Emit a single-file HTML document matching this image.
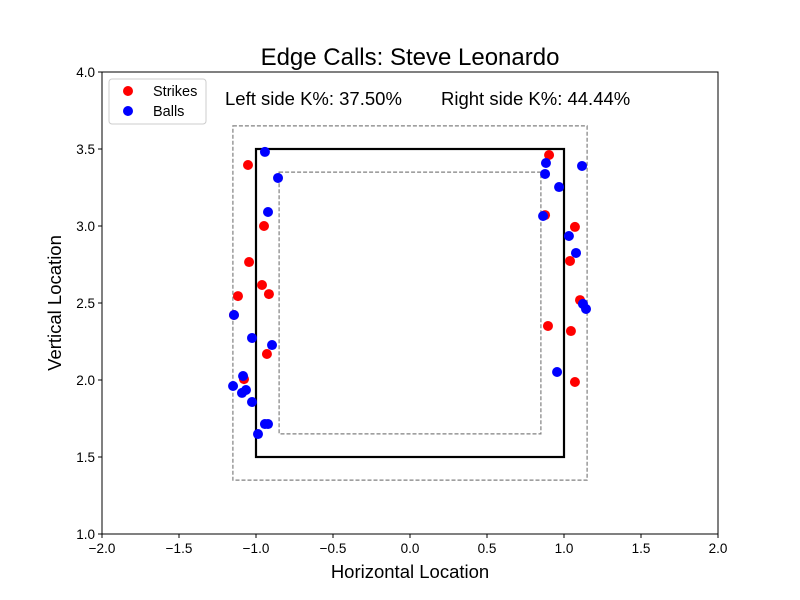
<!DOCTYPE html>
<html><head><meta charset="utf-8"><style>body{margin:0;background:#fff}svg{display:block;font-family:"Liberation Sans","DejaVu Sans",sans-serif}</style></head>
<body>
<svg id="c" width="800" height="600"></svg>
<script>
const strikeX=[-1.052,-0.948,-1.045,-0.961,-1.117,-0.916,-0.929,-1.078,-1.143,0.903,0.877,1.071,1.039,1.104,0.896,1.045,1.071];
const strikeY=[3.396,3.0,2.766,2.617,2.545,2.558,2.169,2.006,2.422,3.461,3.071,2.994,2.773,2.519,2.351,2.318,1.987];
const ballX=[-0.942,-0.857,-0.922,-1.143,-1.026,-0.896,-1.084,-1.149,-1.091,-1.065,-1.026,-0.942,-0.922,-0.987,0.883,0.877,0.968,0.864,1.032,1.078,1.117,1.123,1.143,0.955];
const ballY=[3.481,3.312,3.091,2.422,2.273,2.227,2.026,1.961,1.916,1.935,1.857,1.714,1.714,1.649,3.409,3.338,3.253,3.065,2.935,2.825,3.390,2.494,2.461,2.052];
const xTicks=[-2.0,-1.5,-1.0,-0.5,0.0,0.5,1.0,1.5,2.0];
const yTicks=[1.0,1.5,2.0,2.5,3.0,3.5,4.0];
const L=102,R=718,T=72,B=534;
const sx=v=>L+(v+2)/4*(R-L), sy=v=>B-(v-1)/3*(B-T);
const svg=document.getElementById('c');const NS='http://www.w3.org/2000/svg';
function mk(t,a,p){const e=document.createElementNS(NS,t);for(const k in a)e.setAttribute(k,a[k]);(p||svg).appendChild(e);return e;}
function rect(x0,x1,y0,y1,dash,w,name){const e=mk('rect',{x:sx(x0),y:sy(y1),width:sx(x1)-sx(x0),height:sy(y0)-sy(y1),fill:'none',stroke:dash?'#808080':'#000','stroke-width':w,'stroke-dasharray':dash?'4,2':'none'});

}
let t=mk('text',{x:410,y:65,'text-anchor':'middle','font-size':24});t.textContent='Edge Calls: Steve Leonardo';


rect(-1.15,1.15,1.35,3.65,true,1.2,'outer-zone');
rect(-0.85,0.85,1.65,3.35,true,1.2,'inner-zone');
rect(-1,1,1.5,3.5,false,2.2,'strike-zone');
for(let i=0;i<strikeX.length;i++){const c=mk('circle',{cx:sx(strikeX[i]),cy:sy(strikeY[i]),r:5,fill:'red'});

}
for(let i=0;i<ballX.length;i++){const c=mk('circle',{cx:sx(ballX[i]),cy:sy(ballY[i]),r:5,fill:'blue'});

}
const ax=mk('rect',{x:L,y:T,width:R-L,height:B-T,fill:'none',stroke:'#000','stroke-width':1});


xTicks.forEach(v=>{mk('line',{x1:sx(v),x2:sx(v),y1:B,y2:B+4,stroke:'#000'});const e=mk('text',{x:sx(v),y:B+19,'text-anchor':'middle','font-size':13.5});e.textContent=v.toFixed(1).replace('-','−');

});
yTicks.forEach(v=>{mk('line',{x1:L-4,x2:L,y1:sy(v),y2:sy(v),stroke:'#000'});const e=mk('text',{x:L-7,y:sy(v)+5,'text-anchor':'end','font-size':13.5});e.textContent=v.toFixed(1);

});
t=mk('text',{x:410,y:578,'text-anchor':'middle','font-size':18.5});t.textContent='Horizontal Location';


t=mk('text',{x:61,y:303,'text-anchor':'middle','font-size':18.5,transform:'rotate(-90 61 303)'});t.textContent='Vertical Location';


t=mk('text',{x:225,y:105,'font-size':18.5});t.textContent='Left side K%: 37.50%';


t=mk('text',{x:441,y:105,'font-size':18.5});t.textContent='Right side K%: 44.44%';


const g=mk('g',{});


mk('rect',{x:109,y:79,width:97,height:45,rx:3,fill:'#fff',stroke:'#ccc'},g);
mk('circle',{cx:128,cy:91,r:5,fill:'red'},g);
t=mk('text',{x:153,y:96,'font-size':14.5},g);t.textContent='Strikes';


mk('circle',{cx:128,cy:111,r:5,fill:'blue'},g);
t=mk('text',{x:153,y:116,'font-size':14.5},g);t.textContent='Balls';


</script>
</body></html>
